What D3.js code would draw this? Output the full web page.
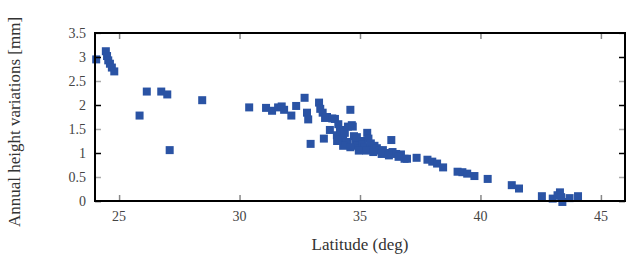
<!DOCTYPE html>
<html>
<head>
<meta charset="utf-8">
<script src="https://cdn.jsdelivr.net/npm/d3@7"></script>
<style>
  body { margin: 0; background: #fff; }
  text { font-family: "Liberation Serif", "DejaVu Serif", serif; }
</style>
</head>
<body>
<script>
(function () {
    'use strict';

    // latitude (deg) of each station
    var latitude = [
        24.05, 24.45, 24.5, 24.55, 24.62, 24.7, 24.8,
        25.85, 26.15, 26.75, 27.0, 27.1, 28.45,
        30.4, 31.1, 31.35, 31.6, 31.75, 31.85, 32.15, 32.35, 32.7, 32.8,
        32.85, 32.95, 33.3, 33.35, 33.45, 33.5, 33.55, 33.63, 33.75, 33.85,
        33.96, 34.04, 34.1, 34.17, 34.2, 34.3, 34.37, 34.46, 34.5, 34.6,
        34.66, 34.7, 34.75, 34.8, 34.87, 34.9, 35.0, 35.1, 35.12, 35.2,
        35.3, 35.35, 35.45, 35.5, 35.6, 35.7, 35.8, 35.95, 36.1, 36.3,
        36.35, 36.5, 36.7, 36.85, 37.35, 37.8, 38.0, 38.2, 38.45,
        39.05, 39.25, 39.45, 39.75, 40.3, 41.3, 41.6,
        42.55, 43.0, 43.2, 43.3, 43.35, 43.4, 43.7, 44.05,
        34.3, 34.6, 34.95, 35.25, 35.55, 35.9, 36.2, 36.6, 36.95, 34.05
    ];
    // annual height variations (mm)
    var heightVar = [
        2.95, 3.12, 3.02, 2.93, 2.86, 2.78, 2.7,
        1.78, 2.28, 2.28, 2.22, 1.06, 2.1,
        1.95, 1.94, 1.88, 1.95, 1.97, 1.9, 1.78, 1.98, 2.15, 1.84,
        1.7, 1.19, 2.05, 1.92, 1.84, 1.3, 1.73, 1.75, 1.48, 1.72,
        1.71, 1.37, 1.6, 1.48, 1.45, 1.3, 1.42, 1.23, 1.55, 1.9,
        1.58, 1.55, 1.35, 1.2, 1.33, 1.15, 1.1, 1.25, 1.17, 1.12,
        1.42, 1.3, 1.2, 1.08, 1.15, 1.1, 1.05, 1.06, 1.0, 1.27,
        1.02, 0.98, 0.97, 0.88, 0.9, 0.86, 0.82, 0.78, 0.7,
        0.61, 0.6, 0.57, 0.52, 0.46, 0.33, 0.26,
        0.1, 0.05, 0.12, 0.18, 0.08, -0.02, 0.06, 0.1,
        1.15, 1.12, 1.05, 1.05, 1.02, 0.98, 0.95, 0.92, 0.88, 1.25
    ];
    var xTicks = [25, 30, 35, 40, 45];
    var yTicks = [0, 0.5, 1, 1.5, 2, 2.5, 3, 3.5];

    var width = 627, height = 257;
    var left = 95, right = 625, top = 33, bottom = 201;

    var svg = d3.select('body')
        .append('svg')
        .attr('width', width)
        .attr('height', height);

    var x = d3.scaleLinear().domain([24, 46]).range([left, right]);
    var y = d3.scaleLinear().domain([0, 3.5]).range([bottom, top]);

    var points = latitude.map(function (d, i) {
        return { lat: d, h: heightVar[i] };
    });

    // markers
    svg.append('g')
        .selectAll('rect')
        .data(points)
        .enter()
        .append('rect')
        .attr('x', function (d) { return x(d.lat) - 4; })
        .attr('y', function (d) { return y(d.h) - 4; })
        .attr('width', 8)
        .attr('height', 8)
        .attr('fill', '#2a53a4');

    // axes, ticks pointing inward
    function tickColor(d) {
        return d % 1 === 0 ? '#000' : '#aaa';
    }
    var yLeft = svg.append('g')
        .attr('transform', 'translate(' + left + ',0)')
        .call(d3.axisRight(y).tickValues(yTicks).tickSize(6).tickFormat(''));
    var yRight = svg.append('g')
        .attr('transform', 'translate(' + right + ',0)')
        .call(d3.axisLeft(y).tickValues(yTicks).tickSize(6).tickFormat(''));
    var xBottom = svg.append('g')
        .attr('transform', 'translate(0,' + bottom + ')')
        .call(d3.axisTop(x).tickValues(xTicks).tickSize(6).tickFormat(''));
    var xTop = svg.append('g')
        .attr('transform', 'translate(0,' + top + ')')
        .call(d3.axisBottom(x).tickValues(xTicks).tickSize(6).tickFormat(''));
    [yLeft, yRight].forEach(function (g) {
        g.select('.domain').remove();
        g.selectAll('.tick line').attr('stroke', tickColor).attr('stroke-width', 1.5);
    });
    [xBottom, xTop].forEach(function (g) {
        g.select('.domain').remove();
        g.selectAll('.tick line').attr('stroke', '#888').attr('stroke-width', 1.5);
    });

    // frame
    svg.append('rect')
        .attr('x', left)
        .attr('y', top)
        .attr('width', right - left)
        .attr('height', bottom - top)
        .attr('fill', 'none')
        .attr('stroke', '#000')
        .attr('stroke-width', 2);

    // tick labels
    svg.append('g')
        .selectAll('text')
        .data(yTicks)
        .enter()
        .append('text')
        .attr('x', left - 9)
        .attr('y', function (d) { return y(d) + 5; })
        .attr('text-anchor', 'end')
        .attr('font-size', 14)
        .attr('fill', '#444')
        .text(function (d) { return d; });

    svg.append('g')
        .selectAll('text')
        .data(xTicks)
        .enter()
        .append('text')
        .attr('x', function (d) { return x(d); })
        .attr('y', bottom + 20)
        .attr('text-anchor', 'middle')
        .attr('font-size', 14)
        .attr('fill', '#444')
        .text(function (d) { return d; });

    // axis titles
    svg.append('text')
        .attr('x', (left + right) / 2)
        .attr('y', 250)
        .attr('text-anchor', 'middle')
        .attr('font-size', 17)
        .attr('fill', '#333')
        .text('Latitude (deg)');

    svg.append('text')
        .attr('transform', 'translate(20,' + 122 + ') rotate(-90)')
        .attr('text-anchor', 'middle')
        .attr('font-size', 17)
        .attr('fill', '#333')
        .text('Annual height variations [mm]');
}());
</script>
</body>
</html>
